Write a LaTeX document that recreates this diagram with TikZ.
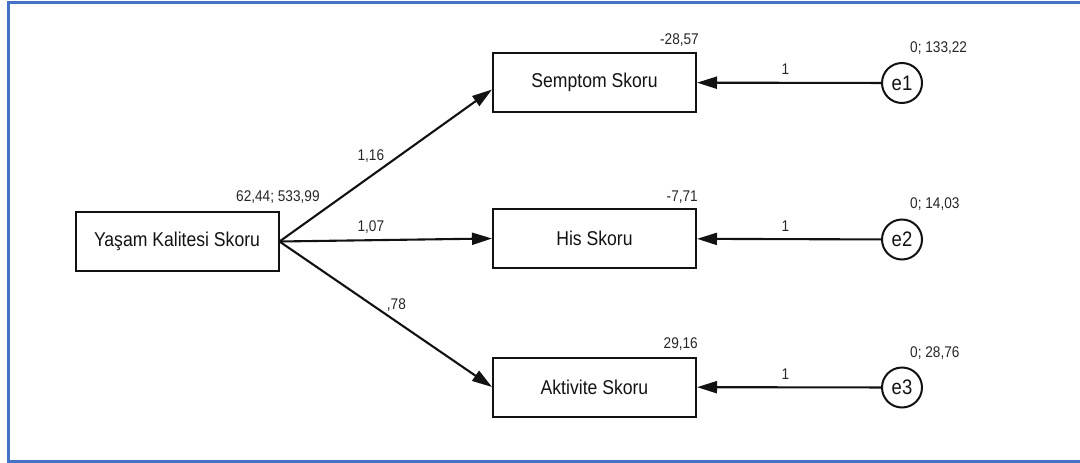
\documentclass[tikz,border=0pt]{standalone}
\usepackage{fontspec}
\setmainfont{Liberation Sans}
\newfontfamily\narrowfont[FakeStretch=0.88]{Liberation Sans}
\usetikzlibrary{arrows.meta}
\definecolor{frameblue}{HTML}{4472C4}
\definecolor{ink}{HTML}{121212}
\definecolor{lbl}{HTML}{262626}
\tikzset{
  varbox/.style={draw=ink, line width=2pt, minimum width=203pt, minimum height=59pt, inner sep=0pt,
     font=\narrowfont\fontsize{20}{24}\selectfont, text=ink},
  errnode/.style={draw=ink, circle, line width=2pt, minimum size=40pt, inner sep=0pt,
     font=\narrowfont\fontsize{21}{24}\selectfont, text=ink},
  numlbl/.style={font=\narrowfont\fontsize{15.5}{18}\selectfont, text=lbl, inner sep=0pt},
  arr/.style={draw=ink, line width=2.1pt, -{Triangle[length=20pt,width=12pt]}},
}
\begin{document}
\begin{tikzpicture}[x=1pt,y=-1pt]
\useasboundingbox (0,0) rectangle (1080,463);
\draw[frameblue, line width=3pt] (1080,2) -- (8.2,2) -- (8.2,461.3) -- (1080,461.3);

\node[varbox] (yks) at (177,241.5) {Yaşam Kalitesi Skoru};
\node[varbox] (sem) at (594.5,82.5) {Semptom Skoru};
\node[varbox] (his) at (594.5,238.5) {His Skoru};
\node[varbox] (akt) at (594.5,387) {Aktivite Skoru};

\node[errnode] (e1) at (902,83) {e1};
\node[errnode] (e2) at (902,239.5) {e2};
\node[errnode] (e3) at (902,387.5) {e3};

\node[numlbl, anchor=west] (l0) at (236,196.7) {62,44; 533,99};
\node[numlbl, anchor=east] (l1) at (699,40) {-28,57};
\node[numlbl, anchor=east] (l2) at (698,197) {-7,71};
\node[numlbl, anchor=east] (l3) at (698,344) {29,16};
\node[numlbl, anchor=west] (v1) at (910,48.3) {0; 133,22};
\node[numlbl, anchor=west] (v2) at (910,204) {0; 14,03};
\node[numlbl, anchor=west] (v3) at (910,352.7) {0; 28,76};

\draw[arr] (yks.east) -- ([yshift=-7pt]sem.west) node[numlbl, pos=0.43, above=13pt] (p1) {1,16};
\draw[arr] (yks.east) -- (his.west) node[numlbl, pos=0.43, above=6pt] (p2) {1,07};
\draw[arr] (yks.east) -- (akt.west) node[numlbl, pos=0.55, above=9pt] (p3) {,78};

\draw[arr] (e1) -- (sem) node[numlbl, pos=0.52, above=7pt] (q1) {1};
\draw[arr] (e2) -- (his) node[numlbl, pos=0.52, above=7pt] (q2) {1};
\draw[arr] (e3) -- (akt) node[numlbl, pos=0.52, above=7pt] (q3) {1};
\end{tikzpicture}
\end{document}
